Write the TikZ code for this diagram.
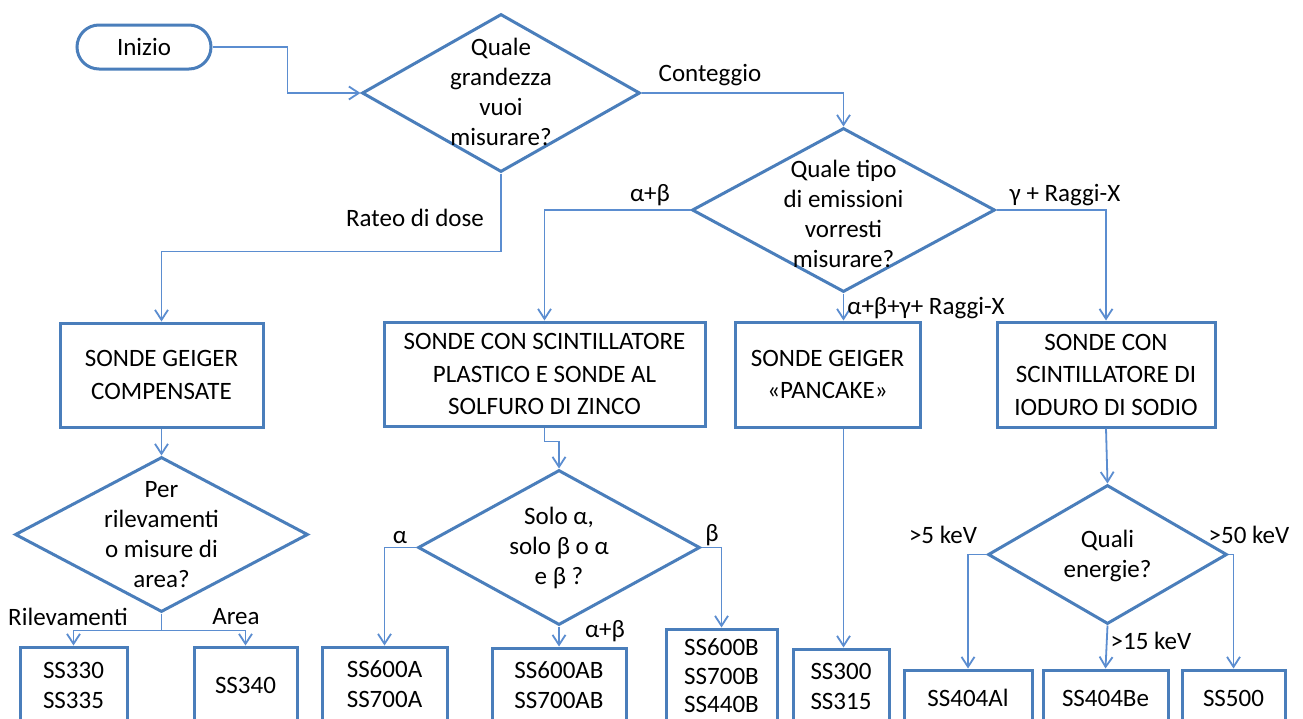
\documentclass[tikz,border=0pt]{standalone}
\usepackage{fontspec}
\setmainfont{Carlito}
\usetikzlibrary{shapes.geometric,arrows.meta}
\definecolor{lineblue}{HTML}{4A7EBB}
\definecolor{connblue}{HTML}{5B8DD0}
\begin{document}
\begin{tikzpicture}[x=1pt,y=-1pt,
  font=\fontsize{25}{30}\selectfont,
  box/.style={draw=lineblue, line width=3pt, align=center, inner sep=0pt},
  bigbox/.style={box, font=\fontsize{25}{32.5}\selectfont},
  dia/.style={diamond, draw=lineblue, line width=3pt, inner sep=0pt},
  conn/.style={draw=connblue, line width=1.8pt, -{Straight Barb[length=10pt,width=13pt]}},
  plain/.style={draw=connblue, line width=1.8pt},
  lbl/.style={inner sep=0pt, align=center}]
\useasboundingbox (0,0) rectangle (1303,718);
\clip (0,0) rectangle (1303,718);
\fill[white] (0,0) rectangle (1303,718);

% start
\node[box, rounded corners=22pt, minimum width=134pt, minimum height=44pt] (inizio) at (144,47) {Inizio};

% diamonds
\node[dia, minimum width=278pt, minimum height=158pt,
  label={[lbl, yshift=1pt]center:Quale\\grandezza\\vuoi\\misurare?}] (d1) at (501,93) {};
\node[dia, minimum width=303pt, minimum height=164pt,
  label={[lbl, yshift=-4pt]center:Quale tipo\\di emissioni\\vorresti\\misurare?}] (d2) at (843.5,210) {};
\node[dia, minimum width=293pt, minimum height=155pt,
  label={[lbl]center:Per\\rilevamenti\\o misure di\\area?}] (d3) at (161.5,534.5) {};
\node[dia, minimum width=282pt, minimum height=155pt,
  label={[lbl]center:Solo α,\\solo β o α\\e β ?}] (d4) at (559,547.5) {};
\node[dia, minimum width=239pt, minimum height=139pt,
  label={[lbl, yshift=-1.5pt]center:Quali\\energie?}] (d5) at (1107.5,554.5) {};

% first-level boxes
\node[bigbox, minimum width=203pt, minimum height=104pt] (b1) at (161.5,375) {SONDE GEIGER\\COMPENSATE};
\node[bigbox, minimum width=321pt, minimum height=104pt] (b2) at (544.5,374) {SONDE CON SCINTILLATORE\\PLASTICO E SONDE AL\\SOLFURO DI ZINCO};
\node[bigbox, minimum width=185pt, minimum height=105pt] (b3) at (827.5,374.5) {SONDE GEIGER\\«PANCAKE»};
\node[bigbox, minimum width=218pt, minimum height=105pt] (b4) at (1106,374.5) {SONDE CON\\SCINTILLATORE DI\\IODURO DI SODIO};

% result boxes
\node[box, minimum width=107pt, minimum height=76pt] (s1) at (73.5,685) {SS330\\SS335};
\node[box, minimum width=103pt, minimum height=76pt] (s2) at (245.5,685) {SS340};
\node[box, minimum width=125pt, minimum height=75pt] (s3) at (384.5,684.5) {SS600A\\SS700A};
\node[box, minimum width=134pt, minimum height=74pt] (s4) at (559,685) {SS600AB\\SS700AB};
\node[box, minimum width=111pt, minimum height=94pt, font=\fontsize{25}{28.5}\selectfont] (s5) at (721.5,676) {SS600B\\SS700B\\SS440B};
\node[box, minimum width=96pt, minimum height=74pt] (s6) at (841,686) {SS300\\SS315};
\node[box, minimum width=128pt, minimum height=56pt] (s7) at (968,698) {SS404Al};
\node[box, minimum width=125pt, minimum height=56pt] (s8) at (1105.5,698) {SS404Be};
\node[box, minimum width=103pt, minimum height=56pt] (s9) at (1233.5,698) {SS500};

% connectors
\draw[conn] (inizio.east) -- ++(75,0) |- (d1.west);
\draw[conn] (d1.east) -| (d2.north);
\draw[conn] (d1.south) -- ++(0,78) -| (b1.north);
\draw[conn] (d2.west) -| (b2.north);
\draw[conn] (d2.east) -| (b4.north);
\draw[conn] (d2.south) -- (d2.south |- b3.north);
\draw[conn] (b1.south) -- (d3.north);
\draw[plain] (d3.south) -- ++(0,17) coordinate (d3j);
\draw[conn] (d3j) -| (s1.north);
\draw[conn] (d3j) -| (s2.north);
\draw[conn] (b2.south) -- ++(0,14) -| (d4.north);
\draw[conn] (d4.west) -| (s3.north);
\draw[conn] (d4.south) -- (s4.north);
\draw[conn] (d4.east) -| (s5.north);
\draw[conn] (d2.south |- b3.south) -- (d2.south |- s6.north);
\draw[conn] (b4.south) -- (d5.north);
\draw[conn] (d5.west) -| (s7.north);
\draw[conn] (d5.south) -- (s8.north);
\draw[conn] (d5.east) -| (s9.north);

% connector labels
\node[lbl] (lconteggio) at (710,75) {Conteggio};
\node[lbl] (lrateo) at (415,218) {Rateo di dose};
\node[lbl] (lab) at (650,195) {α+β};
\node[lbl] (lgx) at (1065,195) {γ + Raggi-X};
\node[lbl] (labgx) at (926,308) {α+β+γ+ Raggi-X};
\node[lbl] (lril) at (68,617) {Rilevamenti};
\node[lbl] (larea) at (236,617) {Area};
\node[lbl] (lalpha) at (400,538) {α};
\node[lbl] (lbeta) at (712,535) {β};
\node[lbl] (lab2) at (605,631) {α+β};
\node[lbl] (l5) at (943,535) {>5 keV};
\node[lbl] (l50) at (1249,535) {>50 keV};
\node[lbl] (l15) at (1151,641) {>15 keV};
\end{tikzpicture}
\end{document}
